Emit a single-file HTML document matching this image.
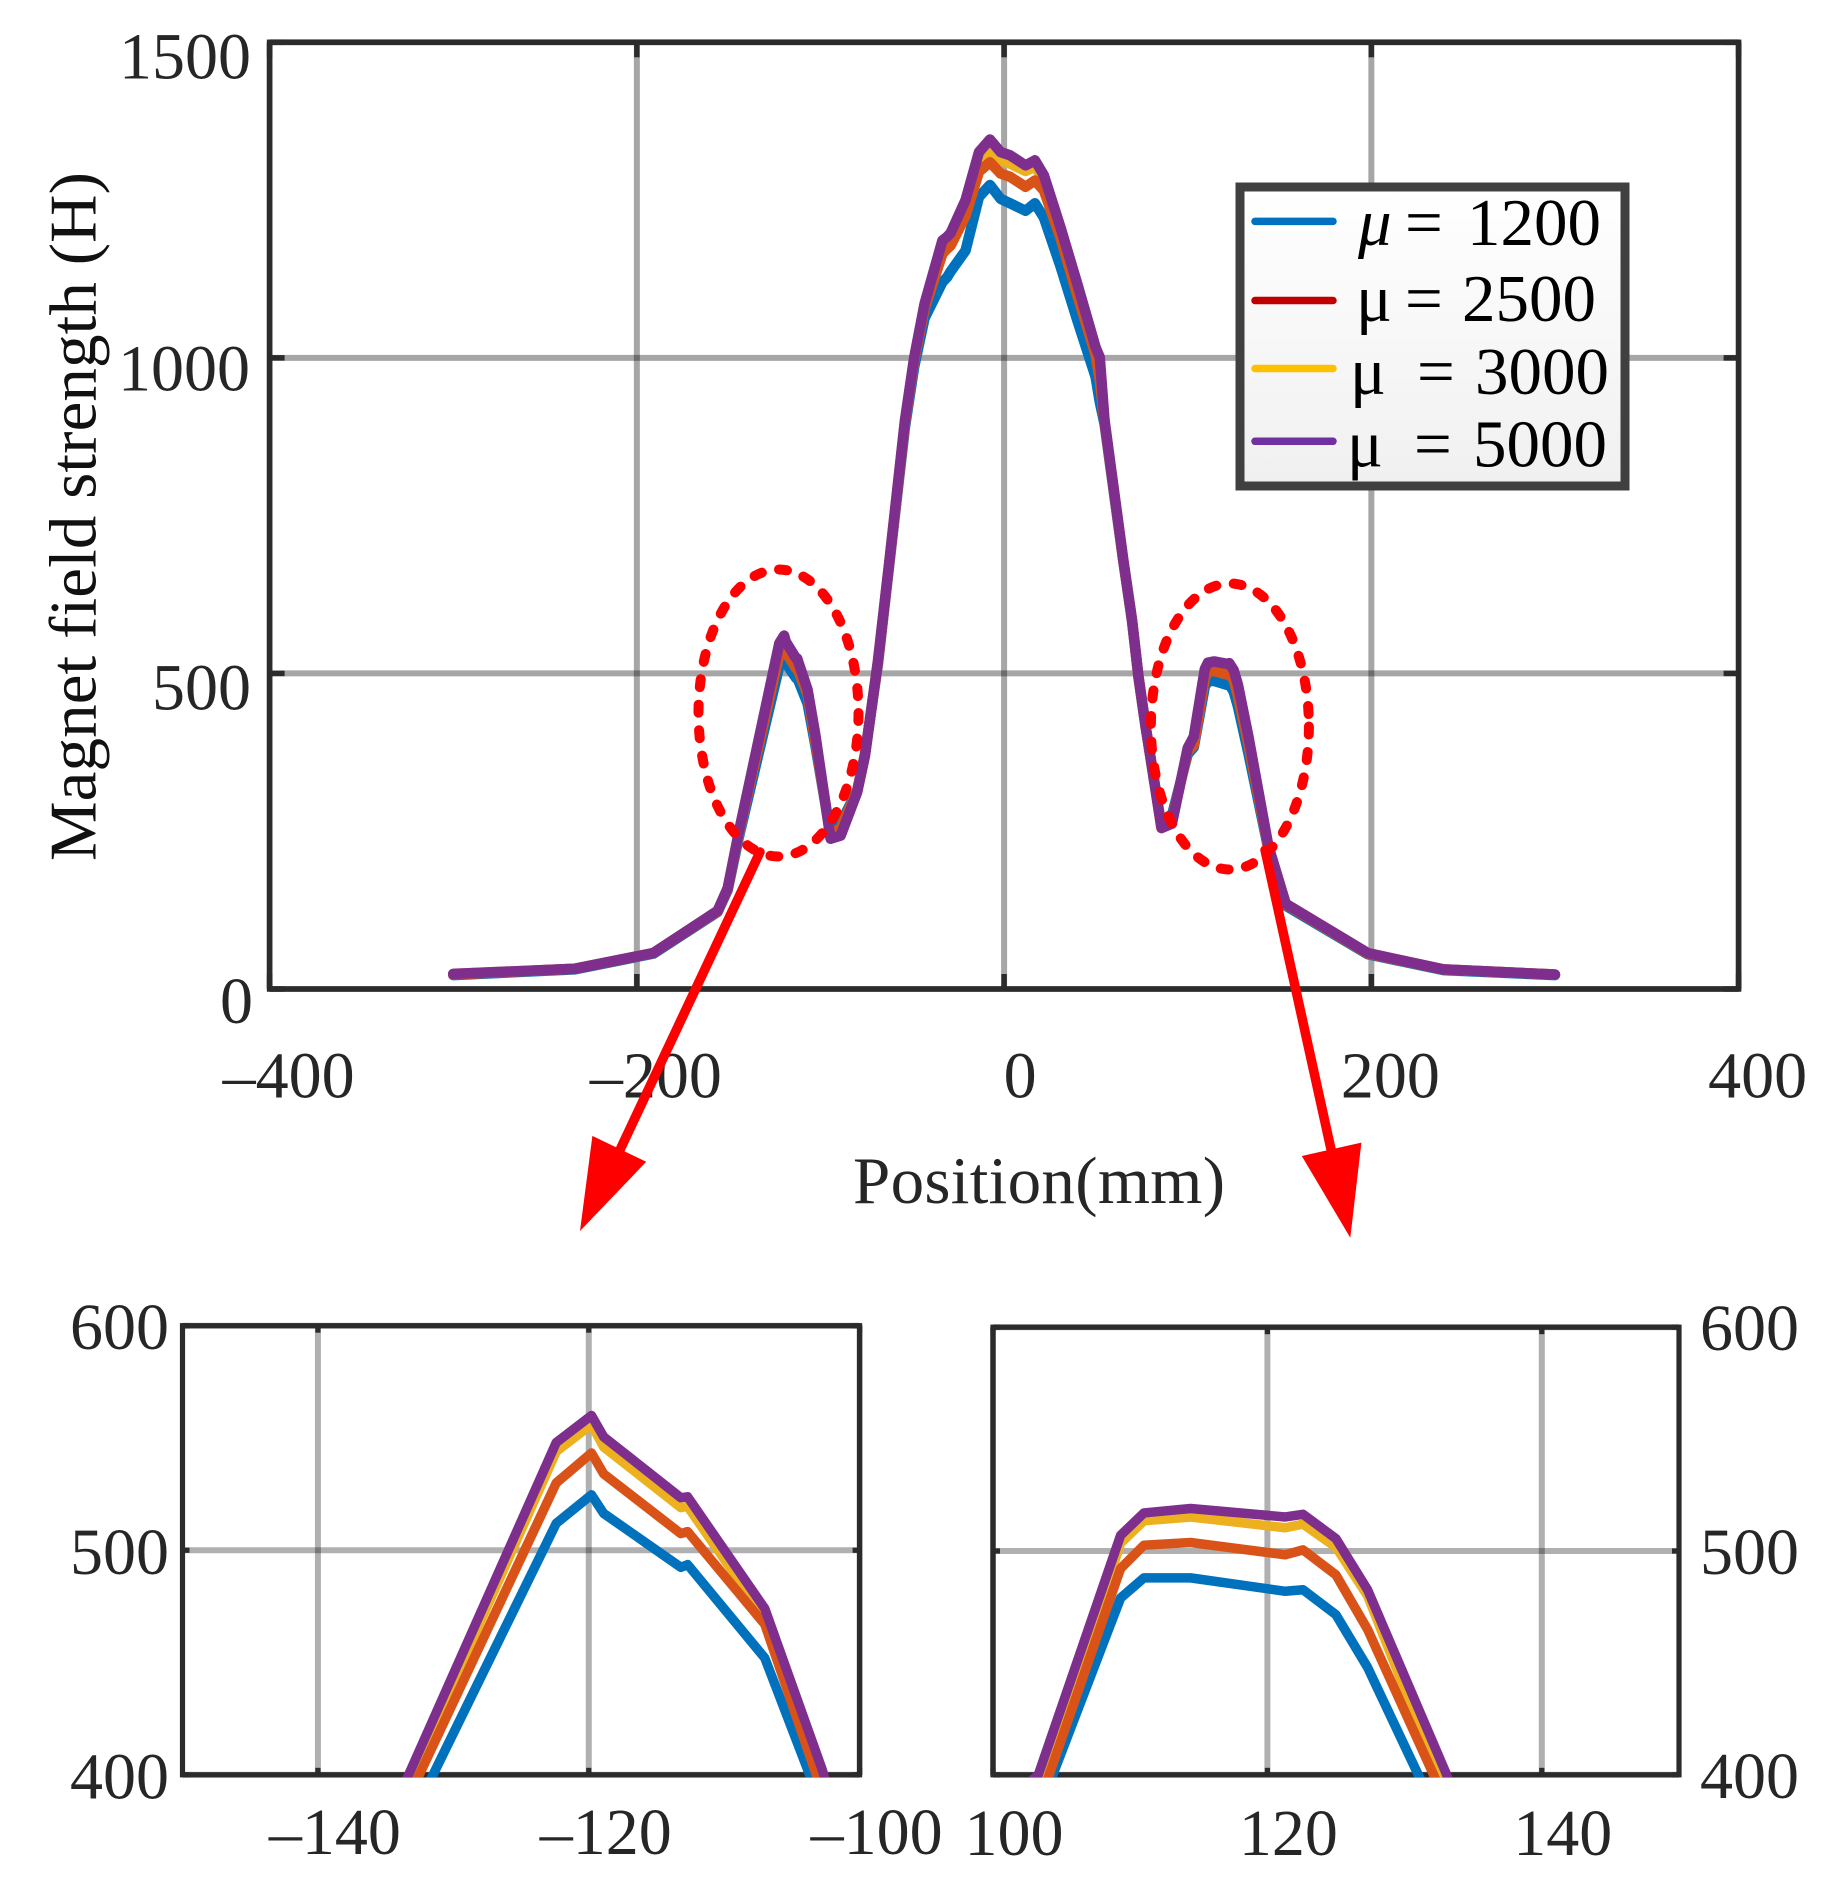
<!DOCTYPE html>
<html lang="en">
<head>
<meta charset="utf-8">
<title>Magnet field strength vs position</title>
<style>
html,body{margin:0;padding:0;background:#fff;width:1833px;height:1887px;overflow:hidden;}
svg{display:block;overflow:hidden;}
text{font-family:"Liberation Serif",serif;fill:#262626;}
</style>
</head>
<body>
<svg id="figure" xmlns="http://www.w3.org/2000/svg" width="1833" height="1887" viewBox="0 0 1833 1887">
  <defs>
    <linearGradient id="legend-fill" x1="0" y1="0" x2="0" y2="1">
      <stop offset="0" stop-color="#ffffff"/>
      <stop offset="1" stop-color="#f0f0f0"/>
    </linearGradient>
    <clipPath id="clip-left"><rect x="180" y="1323" width="682" height="454.5"/></clipPath>
    <clipPath id="clip-right"><rect x="990" y="1325" width="692" height="452.5"/></clipPath>
  </defs>
  <g id="main-layer"></g>
  <g id="left-layer"></g>
  <g id="right-layer"></g>

  <text transform="translate(95.5 861) rotate(-90)" font-size="67" textLength="689" style="fill:#111">Magnet field strength (H)</text>
  <text x="853" y="1203" font-size="67" textLength="372">Position(mm)</text>

  <g>
    <rect x="1240" y="187" width="385" height="299" fill="url(#legend-fill)" stroke="#404040" stroke-width="9"/>
    <line x1="1255" x2="1333" y1="221.4" y2="221.4" stroke="#0070c0" stroke-width="7.5" stroke-linecap="round"/>
    <line x1="1255" x2="1333" y1="300.5" y2="300.5" stroke="#c00000" stroke-width="7.5" stroke-linecap="round"/>
    <line x1="1255" x2="1333" y1="368.5" y2="368.5" stroke="#ffc000" stroke-width="7.5" stroke-linecap="round"/>
    <line x1="1255" x2="1333" y1="441.3" y2="441.3" stroke="#7030a0" stroke-width="7.5" stroke-linecap="round"/>
    <text y="245" font-size="67" style="fill:#000"><tspan x="1358" font-style="italic">μ</tspan><tspan x="1405">=</tspan><tspan x="1467">1200</tspan></text>
    <text y="321" font-size="67" style="fill:#000"><tspan x="1356">μ</tspan><tspan x="1405">=</tspan><tspan x="1462">2500</tspan></text>
    <text y="394" font-size="67" style="fill:#000"><tspan x="1350">μ</tspan><tspan x="1417">=</tspan><tspan x="1475">3000</tspan></text>
    <text y="466.5" font-size="67" style="fill:#000"><tspan x="1347">μ</tspan><tspan x="1414">=</tspan><tspan x="1473">5000</tspan></text>
  </g>

  <g>
    <ellipse cx="778.5" cy="713" rx="80" ry="143.5" fill="none" stroke="#ff0000" stroke-width="10" stroke-linecap="round" stroke-dasharray="8 17.6"/>
    <ellipse cx="1229.9" cy="726.5" rx="79" ry="143" fill="none" stroke="#ff0000" stroke-width="10" stroke-linecap="round" stroke-dasharray="8 17.6"/>
    <line x1="760" y1="852" x2="619" y2="1152" stroke="#ff0000" stroke-width="9.5" stroke-linecap="round"/>
    <polygon points="580,1231 592.4,1135.9 646.2,1161.8" fill="#ff0000"/>
    <line x1="1265" y1="850" x2="1331.6" y2="1152" stroke="#ff0000" stroke-width="9.5" stroke-linecap="round"/>
    <polygon points="1350.3,1237.7 1301.8,1156 1361.4,1142.6" fill="#ff0000"/>
  </g>
</svg>

<script>
// ---- chart data (shared by the main chart and the two zoomed insets) ----
const positions = [-300,-234,-191,-156,-150.5,-144.5,-122.4,-119.8,-118.9,-113.2,-112.7,-107,-102.8,-94.5,-89,-80,-75.8,-68.7,-62.4,-54,-49,-43.3,-33.6,-31,-29.1,-21,-13.7,-7.7,-1.9,3.2,11.7,16.8,21.7,30.7,39.8,49.8,52.1,54.7,64.9,69.7,73.2,77,85.7,91.4,100,103.3,109.3,111,114.4,121.3,122.6,125,127.3,133,143.9,153.4,198,239.3,300];
const mu1200 = [22,31,56,122,157,240,512,524.7,516.4,492.4,493.6,452,386,245,262,315,372,515,676,890,985,1063,1120,1128,1137,1170,1255,1274,1252,1245,1233,1245,1222,1145,1060,970,930,895,678,582,493,416,258,275,372,383,479,488,488,482,482.7,471.5,448,374,222,132,55,30,22];
const mu2500 = [23,32,57,123,159,246,530,543.3,534,507.4,508.3,467,393,243,255,314,371,517,678,896,995,1078,1165,1173,1178,1225,1295,1310,1292,1287,1271,1281,1265,1190,1100,1005,965,898,679,583,494,417,256,268,376,386,492.2,502.6,503.8,498.3,500.5,489.3,465,388,224,134,56,31,23];
const mu3000 = [24,32,57,124,160,245,544,556,546,519,519.5,470,398,240,248,313,370,519,679,900,998,1085,1178,1181,1188,1240,1315,1326,1313,1308,1296,1303,1282,1200,1112,1012,990,900,680,584,495,418,255,264,379,391,503.5,513.5,515.2,510.4,512,501.7,480,392,226,135,57,31,23];
const mu5000 = [24,32,57,124,160,248,548,560,550.5,523.4,523.8,474,403,238,243,312,369,520,680,901,1000,1086,1186,1192,1198,1250,1326,1346,1326,1321,1305,1313,1289,1207,1118,1017,1001,901,680,584,495,418,255,262,382,400,507,517,519,515.2,516.4,505.5,482.7,401,227,135,57,31,23];
const seriesNames = ['mu-1200','mu-3000','mu-2500','mu-5000'];
const mainXTicks = [-400,-200,0,200,400];
const mainYTicks = [0,500,1000,1500];
const leftXTicks = [-140,-120,-100];
const rightXTicks = [100,120,140];
const insetYTicks = [400,500,600];

const SVG_NS = 'http://www.w3.org/2000/svg';
const seriesValues = [mu1200, mu3000, mu2500, mu5000];
const seriesColors = ['#0072bd','#edb120','#d95319','#7e2f8e'];

function linearScale(d0, d1, r0, r1) {
  return function (v) { return r0 + (v - d0) * (r1 - r0) / (d1 - d0); };
}
function tickText(v) {
  return v < 0 ? '\u2013' + Math.abs(v) : String(v);
}
function makeLine(x1, y1, x2, y2, color, width, opacity) {
  const el = document.createElementNS(SVG_NS, 'line');
  el.setAttribute('x1', x1);
  el.setAttribute('y1', y1);
  el.setAttribute('x2', x2);
  el.setAttribute('y2', y2);
  el.setAttribute('stroke', color);
  el.setAttribute('stroke-width', width);
  if (opacity !== undefined) el.setAttribute('stroke-opacity', opacity);
  return el;
}

function drawAxes(cfg) {
  const x = cfg.x, y = cfg.y, layer = cfg.layer;
  const left = x(cfg.xDomain[0]), right = x(cfg.xDomain[1]);
  const top = y(cfg.yDomain[1]), bottom = y(cfg.yDomain[0]);

  cfg.xTicks.forEach(function (v) {
    const g = makeLine(x(v), top, x(v), bottom, '#000', 6, cfg.gridOpacity);
    
    
    layer.appendChild(g);
  });
  cfg.yTicks.forEach(function (v) {
    const g = makeLine(left, y(v), right, y(v), '#000', 6, cfg.gridOpacity);
    
    
    layer.appendChild(g);
  });

  const frame = document.createElementNS(SVG_NS, 'rect');
  frame.setAttribute('x', left);
  frame.setAttribute('y', top);
  frame.setAttribute('width', right - left);
  frame.setAttribute('height', bottom - top);
  frame.setAttribute('fill', 'none');
  frame.setAttribute('stroke', '#2b2b2b');
  frame.setAttribute('stroke-width', cfg.frameWidth);
  
  
  layer.appendChild(frame);

  cfg.xTicks.forEach(function (v) {
    [[bottom, bottom - cfg.tickLength], [top, top + cfg.tickLength]].forEach(function (p) {
      const t = makeLine(x(v), p[0], x(v), p[1], '#2b2b2b', cfg.frameWidth);
      
      
      layer.appendChild(t);
    });
    const label = document.createElementNS(SVG_NS, 'text');
    label.setAttribute('x', x(v) + cfg.xLabelDx + (v === 0 ? -3 : 0));
    label.setAttribute('y', cfg.xLabelY);
    label.setAttribute('text-anchor', 'middle');
    label.setAttribute('font-size', cfg.fontSize);
    label.textContent = tickText(v);
    
    
    layer.appendChild(label);
  });
  cfg.yTicks.forEach(function (v) {
    [[left, left + cfg.tickLength], [right, right - cfg.tickLength]].forEach(function (p) {
      const t = makeLine(p[0], y(v), p[1], y(v), '#2b2b2b', cfg.frameWidth);
      
      
      layer.appendChild(t);
    });
    const label = document.createElementNS(SVG_NS, 'text');
    const tall = cfg.yLabelNudge ? (cfg.yLabelNudge(v)) : [0, 0];
    label.setAttribute('x', cfg.yLabelX + tall[0]);
    label.setAttribute('y', y(v) + cfg.yLabelDy + tall[1]);
    label.setAttribute('text-anchor', cfg.yLabelAnchor);
    label.setAttribute('font-size', cfg.fontSize);
    label.textContent = String(v);
    
    
    layer.appendChild(label);
  });
}

function drawSeries(cfg) {
  seriesValues.forEach(function (values, s) {
    const pts = positions.map(function (p, i) {
      return cfg.x(p).toFixed(2) + ',' + cfg.y(values[i]).toFixed(2);
    }).join(' ');
    const line = document.createElementNS(SVG_NS, 'polyline');
    line.setAttribute('points', pts);
    line.setAttribute('fill', 'none');
    line.setAttribute('stroke', seriesColors[s]);
    line.setAttribute('stroke-width', cfg.lineWidth);
    line.setAttribute('stroke-linejoin', 'round');
    line.setAttribute('stroke-linecap', 'round');
    if (cfg.clip) line.setAttribute('clip-path', cfg.clip);
    
    
    cfg.layer.appendChild(line);
  });
}

const charts = [
  {
    layer: document.getElementById('main-layer'),
    x: linearScale(-400, 400, 269.6, 1738.6),
    y: linearScale(0, 1500, 989, 42.3),
    xDomain: [-400, 400], yDomain: [0, 1500],
    xTicks: mainXTicks, yTicks: mainYTicks,
    gridOpacity: 0.35, frameWidth: 5.5, tickLength: 15, lineWidth: 10.5, fontSize: 66,
    xLabelDx: 19, xLabelY: 1097.5, yLabelX: 250, yLabelDy: 36, yLabelAnchor: 'end',
    yLabelNudge: function (v) { return v === 0 ? [3, -2] : (v === 1000 ? [0, -3.5] : [1, 0]); }
  },
  {
    layer: document.getElementById('left-layer'),
    x: linearScale(-150, -100, 182.5, 859.6),
    y: linearScale(400, 600, 1774.8, 1325.7),
    xDomain: [-150, -100], yDomain: [400, 600],
    xTicks: leftXTicks, yTicks: insetYTicks,
    gridOpacity: 0.31, frameWidth: 5.2, tickLength: 7, lineWidth: 9.5, fontSize: 66,
    xLabelDx: 17, xLabelY: 1854, yLabelX: 169, yLabelDy: 23.5, yLabelAnchor: 'end',
    clip: 'url(#clip-left)'
  },
  {
    layer: document.getElementById('right-layer'),
    x: linearScale(100, 150, 993, 1679),
    y: linearScale(400, 600, 1774.8, 1327.2),
    xDomain: [100, 150], yDomain: [400, 600],
    xTicks: rightXTicks, yTicks: insetYTicks,
    gridOpacity: 0.31, frameWidth: 5.2, tickLength: 7, lineWidth: 9.5, fontSize: 66,
    xLabelDx: 21, xLabelY: 1855, yLabelX: 1700, yLabelDy: 23, yLabelAnchor: 'start',
    clip: 'url(#clip-right)'
  }
];

charts.forEach(function (c) {
  drawAxes(c);
  drawSeries(c);
});
</script>
</body>
</html>
